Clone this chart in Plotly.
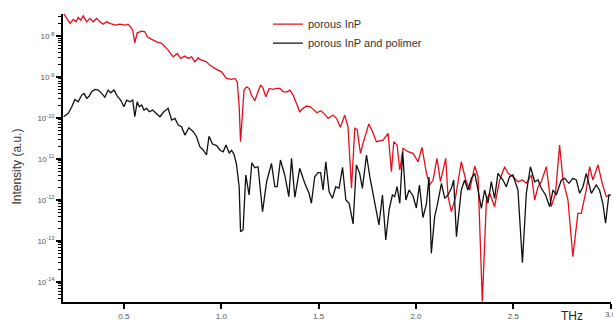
import plotly.graph_objects as go

# Frequency (THz) and log10(intensity)
red_x = [0.19, 0.223, 0.240, 0.254, 0.265, 0.278, 0.291, 0.309, 0.325, 0.342, 0.360, 0.377, 0.394, 0.411,
         0.428, 0.454, 0.479, 0.505, 0.522, 0.534, 0.545, 0.556, 0.568, 0.591, 0.608, 0.620, 0.633, 0.650,
         0.668, 0.694, 0.710, 0.727, 0.753, 0.774, 0.791, 0.813, 0.830, 0.848, 0.864, 0.881, 0.890, 0.907,
         0.924, 0.941, 0.967, 1.001, 1.027, 1.053, 1.070, 1.082, 1.092, 1.099, 1.109, 1.117, 1.130, 1.143,
         1.155, 1.172, 1.189, 1.202, 1.215, 1.229, 1.246, 1.266, 1.284, 1.301, 1.318, 1.338, 1.352, 1.369,
         1.386, 1.403, 1.420, 1.438, 1.458, 1.475, 1.492, 1.510, 1.527, 1.549, 1.574, 1.592, 1.612, 1.634,
         1.651, 1.669, 1.686, 1.698, 1.715, 1.733, 1.758, 1.777, 1.797, 1.831, 1.857, 1.874, 1.886, 1.903,
         1.917, 1.934, 1.959, 1.985, 2.011, 2.031, 2.054, 2.071, 2.088, 2.108, 2.126, 2.153, 2.165, 2.182,
         2.204, 2.233, 2.256, 2.276, 2.302, 2.319, 2.341, 2.362, 2.379, 2.404, 2.430, 2.456, 2.473, 2.498,
         2.524, 2.547, 2.567, 2.593, 2.610, 2.627, 2.644, 2.670, 2.695, 2.717, 2.738, 2.755, 2.781, 2.806,
         2.832, 2.849, 2.875, 2.892, 2.909, 2.935, 2.957, 2.978, 2.998]
red_log = [-7.446, -7.69, -7.593, -7.651, -7.544, -7.61, -7.505, -7.651, -7.568, -7.651, -7.568, -7.651, -7.707, -7.651,
           -7.69, -7.732, -7.707, -7.732, -7.715, -7.773, -7.854, -8.163, -7.92, -7.878, -7.895, -8.017, -8.056, -8.098,
           -8.139, -8.178, -8.261, -8.341, -8.505, -8.422, -8.544, -8.488, -8.544, -8.505, -8.627, -8.529, -8.568, -8.602,
           -8.627, -8.707, -8.788, -8.871, -9.032, -9.056, -9.032, -9.115, -9.724, -10.578, -9.724, -9.317, -9.237, -9.276,
           -9.439, -9.578, -9.359, -9.195, -9.276, -9.480, -9.276, -9.300, -9.276, -9.276, -9.359, -9.359, -9.317, -9.439,
           -9.641, -9.846, -9.763, -9.707, -9.724, -9.788, -9.871, -9.822, -9.885, -10.007, -9.927, -10.007, -10.227, -9.927,
           -10.212, -11.715, -10.251, -10.276, -10.861, -10.537, -10.146, -10.334, -10.578, -10.537, -10.373, -11.310, -10.578, -10.659,
           -11.268, -10.739, -10.822, -10.861, -11.066, -10.715, -11.349, -11.634, -11.512, -10.983, -11.554, -10.983, -11.920, -12.285,
           -11.920, -11.066, -11.512, -11.756, -11.171, -11.432, -14.48, -12.000, -11.837, -12.163, -11.512, -11.188, -11.349, -11.432,
           -11.554, -11.512, -11.593, -11.390, -12.000, -11.676, -11.554, -11.188, -12.163, -11.837, -10.659, -11.512, -12.000, -13.383,
           -12.325, -12.325, -11.756, -11.188, -11.512, -11.146, -11.593, -11.920, -11.878]

black_x = [0.19, 0.214, 0.232, 0.248, 0.265, 0.283, 0.295, 0.309, 0.322, 0.334, 0.351, 0.368, 0.386, 0.402,
           0.419, 0.432, 0.449, 0.466, 0.483, 0.500, 0.514, 0.531, 0.545, 0.556, 0.568, 0.579, 0.591, 0.603,
           0.617, 0.630, 0.647, 0.668, 0.685, 0.705, 0.727, 0.745, 0.762, 0.779, 0.796, 0.813, 0.834, 0.856,
           0.873, 0.890, 0.907, 0.924, 0.937, 0.955, 0.976, 0.993, 1.010, 1.024, 1.041, 1.053, 1.065, 1.078,
           1.092, 1.099, 1.112, 1.126, 1.143, 1.157, 1.172, 1.189, 1.212, 1.233, 1.258, 1.275, 1.287, 1.304,
           1.326, 1.347, 1.361, 1.378, 1.403, 1.429, 1.451, 1.463, 1.480, 1.497, 1.510, 1.523, 1.537, 1.554,
           1.571, 1.588, 1.605, 1.623, 1.640, 1.657, 1.677, 1.694, 1.711, 1.725, 1.746, 1.763, 1.788, 1.810,
           1.828, 1.845, 1.862, 1.879, 1.891, 1.903, 1.917, 1.932, 1.948, 1.965, 1.985, 2.002, 2.018, 2.036,
           2.054, 2.067, 2.079, 2.096, 2.108, 2.131, 2.148, 2.165, 2.182, 2.194, 2.208, 2.233, 2.250, 2.267,
           2.285, 2.302, 2.319, 2.336, 2.353, 2.370, 2.387, 2.404, 2.421, 2.447, 2.464, 2.481, 2.498, 2.524,
           2.547, 2.567, 2.588, 2.610, 2.627, 2.644, 2.666, 2.687, 2.704, 2.721, 2.747, 2.764, 2.786, 2.806,
           2.824, 2.841, 2.858, 2.875, 2.901, 2.926, 2.943, 2.960, 2.974, 2.991, 3.0]
black_log = [-9.968, -9.885, -9.724, -9.544, -9.602, -9.439, -9.398, -9.520, -9.463, -9.359, -9.300, -9.317, -9.398, -9.495,
             -9.317, -9.383, -9.317, -9.463, -9.561, -9.724, -9.561, -9.602, -9.561, -9.968, -9.602, -9.724, -9.683, -9.805,
             -9.763, -9.846, -9.805, -9.885, -9.968, -9.846, -9.763, -10.049, -10.007, -10.171, -10.212, -10.415, -10.237, -10.334,
             -10.456, -10.700, -10.780, -10.902, -10.446, -10.634, -10.671, -10.780, -10.822, -10.659, -10.854, -10.788, -10.878, -11.122,
             -11.683, -12.773, -12.732, -11.390, -11.878, -11.090, -11.212, -11.188, -12.285, -11.554, -11.105, -11.676, -11.676, -11.024,
             -11.390, -11.920, -10.983, -11.934, -11.227, -11.593, -11.837, -12.080, -11.432, -11.334, -11.334, -11.756, -11.066, -11.798,
             -11.959, -11.676, -11.715, -11.202, -12.000, -12.080, -12.585, -11.146, -11.349, -11.715, -10.902, -11.432, -12.080, -12.610,
             -11.878, -12.976, -12.244, -11.878, -11.920, -11.676, -12.080, -10.822, -12.000, -11.756, -11.902, -12.195, -11.634, -12.427,
             -12.098, -11.439, -13.300, -12.407, -12.163, -11.593, -11.959, -11.878, -11.715, -11.512, -12.895, -11.756, -11.512, -11.756,
             -11.471, -11.349, -11.756, -12.202, -11.756, -12.080, -11.554, -11.959, -11.349, -11.512, -11.676, -11.432, -11.390, -11.756,
             -13.529, -11.837, -11.188, -11.554, -11.512, -11.715, -11.878, -12.163, -11.756, -11.878, -11.512, -11.471, -11.593, -11.471,
             -11.512, -11.837, -11.676, -11.349, -11.837, -11.634, -11.756, -12.080, -12.568, -11.878, -11.878]

red_y = [10 ** e for e in red_log]
black_y = [10 ** e for e in black_log]

x_ticks = [0.5, 1.0, 1.5, 2.0, 2.5, 3.0]
y_tick_exponents = [-14, -13, -12, -11, -10, -9, -8]
y_tick_labels = ["10<sup>-14</sup>", "10<sup>-13</sup>", "10<sup>-12</sup>", "10<sup>-11</sup>",
                 "10<sup>-10</sup>", "10<sup>-9</sup>", "10<sup>-8</sup>"]
series_names = ["porous InP", "porous InP and polimer"]

y_tick_vals = [10.0 ** k for k in y_tick_exponents]
# minor tick positions for the log axis (2..9 x each decade)
minor_y = [m * 10.0 ** k for k in range(-15, -7) for m in range(2, 10)]

FONT = "Liberation Sans, Arial, sans-serif"

fig = go.Figure()
fig.add_trace(go.Scatter(x=red_x, y=red_y, mode="lines", name=series_names[0],
                         line=dict(color="#e3101c", width=1.3)))
fig.add_trace(go.Scatter(x=black_x, y=black_y, mode="lines", name=series_names[1],
                         line=dict(color="#111111", width=1.3)))

fig.update_layout(
    width=613, height=321,
    margin=dict(l=63, r=2, t=14, b=19),
    paper_bgcolor="white", plot_bgcolor="white",
    font=dict(family=FONT, color="#444"),
    showlegend=True,
    legend=dict(x=0.374, y=1.015, xanchor="left", yanchor="top",
                font=dict(size=11, color="#333", family=FONT),
                bgcolor="rgba(0,0,0,0)", tracegroupgap=0, itemwidth=30),
    xaxis=dict(range=[0.187, 3.002], tickvals=x_ticks, tickformat=".1f", automargin=False,
               showgrid=False, zeroline=False, showline=True, linecolor="black", linewidth=2,
               ticks="outside", ticklen=5, tickwidth=2, tickcolor="black",
               tickfont=dict(size=8, color="#555")),
    yaxis=dict(type="log", range=[-14.49, -7.46], tickmode="array",
               tickvals=y_tick_vals, ticktext=y_tick_labels, automargin=False,
               showgrid=False, zeroline=False, showline=True, linecolor="black", linewidth=2,
               ticks="outside", ticklen=5, tickwidth=2, tickcolor="black",
               tickfont=dict(size=8, color="#555"),
               minor=dict(ticks="outside", ticklen=3, tickwidth=1, tickcolor="black",
                          tickvals=minor_y, showgrid=False)),
    annotations=[
        dict(text="Intensity (a.u.)", xref="paper", yref="paper", x=-0.084, y=0.47,
             textangle=-90, showarrow=False, font=dict(size=12, color="#333", family=FONT),
             xanchor="center", yanchor="middle"),
        dict(text="THz", xref="paper", yref="paper", x=0.929, y=-0.047,
             showarrow=False, font=dict(size=12, color="#222", family=FONT),
             xanchor="center", yanchor="middle"),
        dict(text="3.0", xref="x", yref="paper", x=x_ticks[-1], y=-0.045,
             showarrow=False, font=dict(size=8, color="#555", family=FONT),
             xanchor="center", yanchor="middle"),
    ],
)

fig.write_html("out.html", config={"displayModeBar": False},
               post_script="document.body.style.margin='0';")
